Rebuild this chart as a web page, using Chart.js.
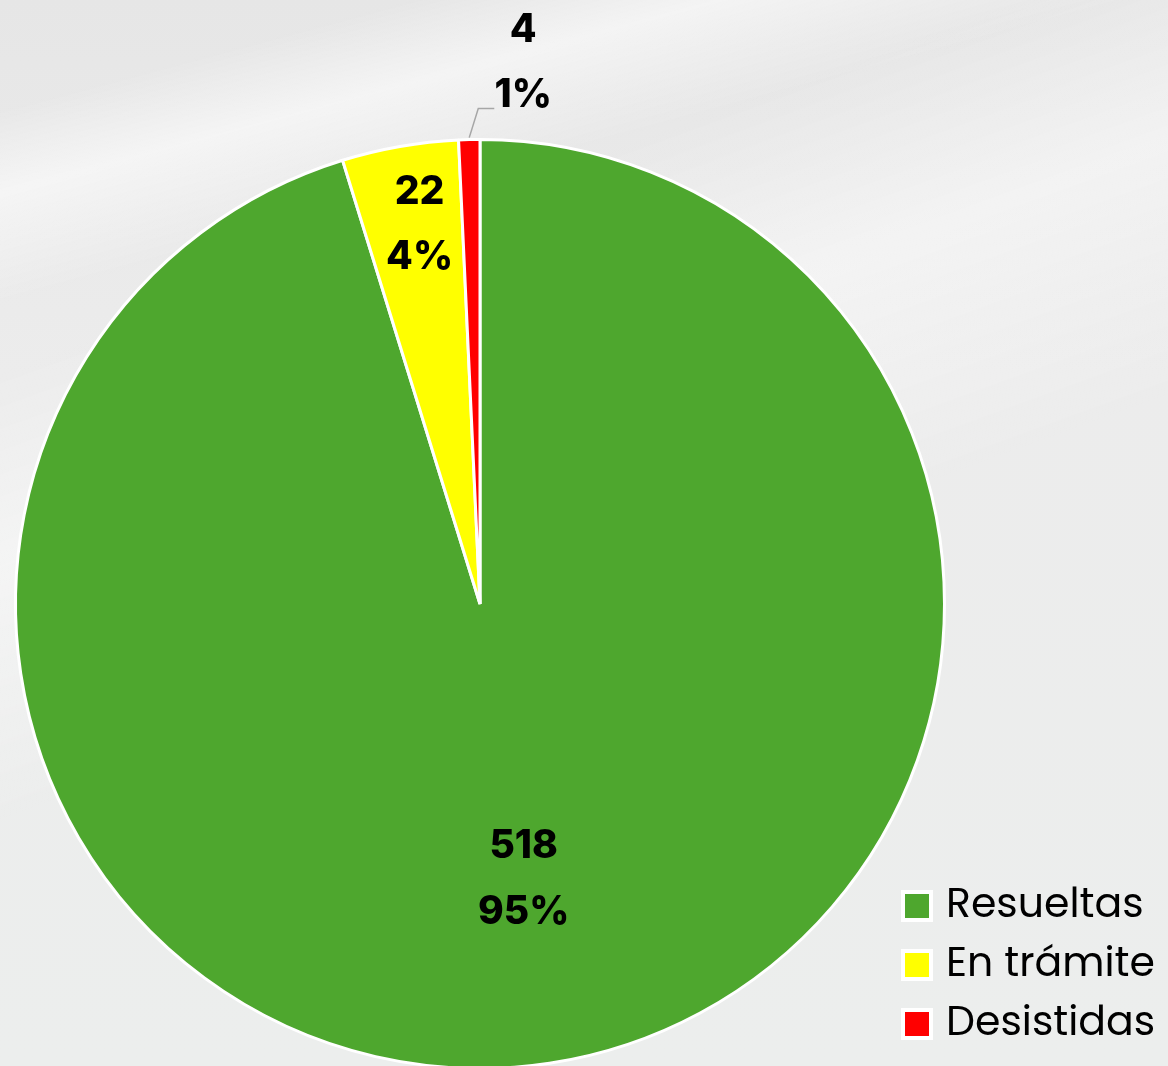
<!DOCTYPE html>
<html>
<head>
<meta charset="utf-8">
<script src="https://cdn.jsdelivr.net/npm/chart.js@4.4.1/dist/chart.umd.min.js"></script>
<style>
  html, body { margin: 0; padding: 0; width: 1168px; height: 1066px; overflow: hidden; }
  body {
    background:
      linear-gradient(165deg, rgba(255,255,255,0) 0%, rgba(255,255,255,0) 8%, rgba(255,255,255,0.55) 14%, rgba(255,255,255,0) 22%),
      linear-gradient(160deg, rgba(255,255,255,0) 25%, rgba(255,255,255,0.45) 38%, rgba(255,255,255,0) 55%),
      linear-gradient(180deg, #e6e6e6 0%, #ececec 35%, #eceeed 100%);
  }
  #wrap { position: absolute; left: 0; top: 0; width: 1168px; height: 1080px; }
</style>
</head>
<body>
<div id="wrap"><canvas id="pieChart"></canvas></div>
<script>
// datos del gráfico
const categorias = ["Resueltas", "En trámite", "Desistidas"];
const valores = [518, 22, 4];
const colores = ["#4ea72e", "#ffff00", "#ff0000"];

const total = valores.reduce((a, b) => a + b, 0);
const fuenteBold = "800 39px Inter, 'DejaVu Sans', sans-serif";

// etiquetas de valor y porcentaje
const etiquetasPlugin = {
    id: "etiquetas",
    afterDatasetsDraw(chart) {
        const ctx = chart.ctx;
        const meta = chart.getDatasetMeta(0);
        ctx.save();
        ctx.font = fuenteBold;
        ctx.fillStyle = "#000";
        ctx.textAlign = "center";
        ctx.textBaseline = "middle";
        meta.data.forEach((arc, i) => {
            const v = valores[i];
            const pct = Math.round(v / total * 100) + "%";
            const mid = (arc.startAngle + arc.endAngle) / 2;
            const R = arc.outerRadius;
            const frac = v / total;
            if (frac > 0.5) {
                const x = arc.x + Math.cos(mid) * R * 0.6;
                const y = arc.y + Math.sin(mid) * R * 0.6;
                ctx.fillText(v, x + 2, y - 33);
                ctx.fillText(pct, x + 2, y + 33);
            } else if (frac > 0.02) {
                const x = arc.x + Math.cos(mid) * R * 0.83;
                const y = arc.y + Math.sin(mid) * R * 0.83;
                ctx.fillText(v, x + 6, y - 32);
                ctx.fillText(pct, x + 6, y + 33);
            } else {
                // etiqueta externa con línea guía
                const x0 = arc.x + Math.cos(mid) * (R + 2);
                const y0 = arc.y + Math.sin(mid) * (R + 2);
                const x1 = arc.x + Math.cos(mid) * R + 9;
                const y1 = y0 - 29;
                ctx.strokeStyle = "#a6a6a6";
                ctx.lineWidth = 1.5;
                ctx.beginPath();
                ctx.moveTo(x0, y0);
                ctx.lineTo(x1, y1);
                ctx.lineTo(x1 + 16, y1);
                ctx.stroke();
                ctx.fillText(pct, x1 + 45, y1 - 13);
                ctx.fillText(v, x1 + 45, y1 - 78);
            }
        });
        ctx.restore();
    }
};

// leyenda dibujada a mano (abajo a la derecha)
const leyendaPlugin = {
    id: "leyenda",
    afterDraw(chart) {
        const ctx = chart.ctx;
        ctx.save();
        ctx.font = "400 41px Poppins, 'Open Sans', sans-serif";
        ctx.textBaseline = "middle";
        ctx.textAlign = "left";
        categorias.forEach((c, i) => {
            const y = 906 + i * 59;
            ctx.fillStyle = "#fff";
            ctx.fillRect(901, y - 16, 32, 32);
            ctx.fillStyle = colores[i];
            ctx.fillRect(905, y - 12, 24, 24);
            ctx.fillStyle = "#000";
            ctx.fillText(c, 946, y + 1);
        });
        ctx.restore();
    }
};

new Chart(document.getElementById("pieChart"), {
    type: "pie",
    data: {
        labels: categorias,
        datasets: [{
            data: valores,
            backgroundColor: colores,
            borderColor: "#ffffff",
            borderWidth: 3
        }]
    },
    options: {
        responsive: true,
        maintainAspectRatio: false,
        animation: false,
        layout: { padding: { top: 138, bottom: 10, left: 14, right: 222 } },
        plugins: {
            legend: { display: false },
            tooltip: { enabled: false }
        }
    },
    plugins: [etiquetasPlugin, leyendaPlugin]
});
</script>
</body>
</html>
